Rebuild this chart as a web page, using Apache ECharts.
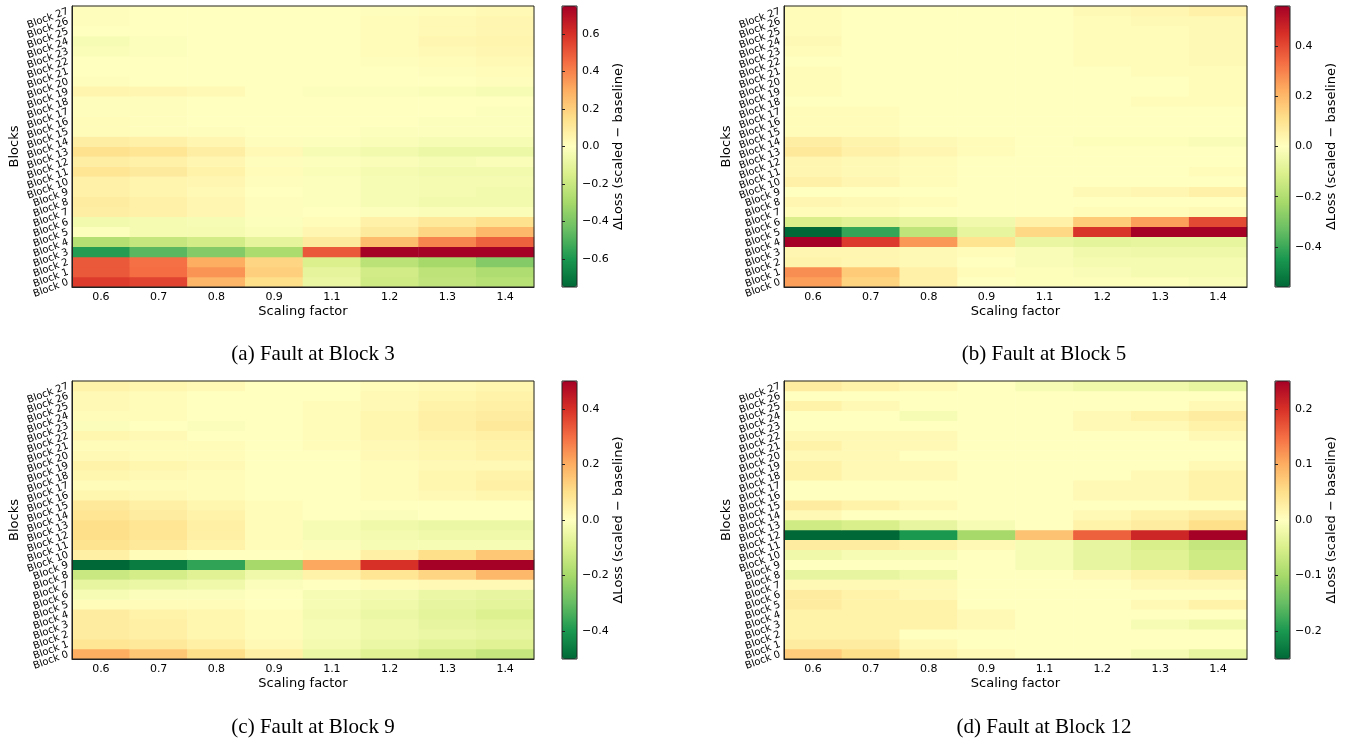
<!DOCTYPE html>
<html><head><meta charset="utf-8">
<script src="https://cdn.jsdelivr.net/npm/echarts@6/dist/echarts.min.js"></script>
<style>html,body{margin:0;padding:0;background:#fff}#c{width:1349px;height:738px}</style>
</head><body><div id="c"></div><script>
const scalingFactors = ['0.6','0.7','0.8','0.9','1.1','1.2','1.3','1.4'];
const blockLabels = ['Block 0','Block 1','Block 2','Block 3','Block 4','Block 5','Block 6','Block 7','Block 8','Block 9','Block 10','Block 11','Block 12','Block 13','Block 14','Block 15','Block 16','Block 17','Block 18','Block 19','Block 20','Block 21','Block 22','Block 23','Block 24','Block 25','Block 26','Block 27'];

// rows: Block 0 .. Block 27, columns: scaling factors
const faultBlock3 = [
[0.57,0.55,0.28,0.15,-0.08,-0.18,-0.22,-0.25],
[0.50,0.45,0.36,0.20,-0.10,-0.17,-0.23,-0.27],
[0.50,0.44,0.30,0.18,-0.14,-0.24,-0.30,-0.38],
[-0.58,-0.47,-0.38,-0.28,0.50,0.75,0.75,0.75],
[-0.26,-0.21,-0.17,-0.10,0.10,0.26,0.40,0.48],
[-0.01,-0.04,-0.04,-0.02,0.04,0.10,0.18,0.27],
[-0.05,-0.04,-0.03,-0.01,0.02,0.07,0.11,0.14],
[0.08,0.07,0.04,0.01,0.00,-0.01,-0.02,-0.02],
[0.09,0.07,0.04,0.01,-0.01,-0.03,-0.05,-0.05],
[0.07,0.05,0.03,0.00,-0.01,-0.03,-0.04,-0.05],
[0.07,0.05,0.04,0.01,-0.01,-0.03,-0.04,-0.04],
[0.12,0.10,0.06,0.02,-0.02,-0.04,-0.05,-0.05],
[0.08,0.07,0.04,0.01,-0.01,-0.02,-0.03,-0.02],
[0.14,0.12,0.08,0.03,-0.03,-0.05,-0.07,-0.07],
[0.08,0.07,0.04,0.01,-0.01,-0.02,-0.03,-0.03],
[0.02,0.01,0.01,0.00,0.00,-0.01,-0.01,-0.01],
[0.02,0.01,0.00,0.00,0.00,0.00,-0.01,-0.01],
[0.01,0.01,0.00,0.00,0.00,0.00,0.00,-0.01],
[0.01,0.01,0.00,0.00,0.00,0.00,0.00,0.00],
[0.05,0.04,0.03,0.00,-0.01,-0.01,-0.02,-0.03],
[0.01,0.00,0.00,0.00,0.00,0.00,0.00,0.01],
[0.00,0.00,0.00,0.00,0.00,0.00,0.01,0.02],
[0.00,0.00,0.00,0.00,0.00,0.01,0.02,0.03],
[-0.02,-0.01,0.00,0.00,0.00,0.02,0.03,0.04],
[-0.03,-0.01,0.00,0.00,0.00,0.02,0.04,0.05],
[0.00,0.00,0.00,0.00,0.00,0.02,0.03,0.04],
[0.01,0.00,0.00,0.00,0.00,0.02,0.03,0.04],
[0.01,0.00,0.00,0.00,0.00,0.01,0.02,0.03]
];
const faultBlock5 = [
[0.25,0.14,0.05,0.00,-0.01,-0.01,-0.01,-0.02],
[0.28,0.16,0.05,0.01,-0.01,-0.02,-0.03,-0.03],
[0.04,0.03,0.02,0.00,-0.02,-0.03,-0.03,-0.03],
[0.03,0.03,0.02,0.01,-0.02,-0.04,-0.05,-0.05],
[0.56,0.43,0.26,0.10,-0.06,-0.08,-0.07,-0.07],
[-0.56,-0.41,-0.17,-0.07,0.13,0.44,0.56,0.56],
[-0.11,-0.09,-0.07,-0.04,0.05,0.16,0.25,0.40],
[0.01,0.01,0.00,0.00,0.00,0.01,0.01,0.02],
[0.03,0.02,0.01,0.00,0.00,0.00,0.00,0.00],
[0.00,0.00,0.00,0.00,0.00,0.02,0.03,0.05],
[0.05,0.03,0.01,0.00,0.00,0.00,0.00,0.00],
[0.03,0.02,0.01,0.00,0.00,0.00,0.00,0.01],
[0.03,0.02,0.01,0.00,0.00,0.00,0.00,0.00],
[0.08,0.05,0.03,0.01,0.00,0.00,0.00,0.00],
[0.06,0.04,0.02,0.01,0.00,-0.01,-0.01,-0.02],
[0.01,0.01,0.00,0.00,0.00,0.00,0.00,0.00],
[0.01,0.01,0.00,0.00,0.00,0.00,0.00,0.00],
[0.01,0.01,0.00,0.00,0.00,0.00,0.00,0.00],
[0.00,0.00,0.00,0.00,0.00,0.00,0.01,0.01],
[0.01,0.00,0.00,0.00,0.00,0.00,0.00,0.01],
[0.01,0.00,0.00,0.00,0.00,0.00,0.00,0.01],
[0.01,0.00,0.00,0.00,0.00,0.00,0.01,0.01],
[0.00,0.00,0.00,0.00,0.00,0.01,0.01,0.02],
[0.01,0.00,0.00,0.00,0.00,0.01,0.01,0.02],
[0.02,0.00,0.00,0.00,0.00,0.01,0.01,0.02],
[0.01,0.00,0.00,0.00,0.00,0.01,0.01,0.02],
[0.01,0.00,0.00,0.00,0.00,0.01,0.02,0.02],
[0.01,0.00,0.00,0.00,0.00,0.02,0.03,0.05]
];
const faultBlock9 = [
[0.20,0.15,0.10,0.05,-0.05,-0.08,-0.11,-0.14],
[0.08,0.07,0.05,0.02,-0.03,-0.05,-0.07,-0.08],
[0.06,0.05,0.03,0.01,-0.02,-0.04,-0.05,-0.06],
[0.06,0.05,0.03,0.01,-0.02,-0.04,-0.06,-0.07],
[0.06,0.04,0.03,0.01,-0.03,-0.05,-0.07,-0.09],
[0.01,0.01,0.01,0.00,-0.02,-0.04,-0.06,-0.07],
[-0.02,-0.01,-0.01,0.00,-0.02,-0.03,-0.05,-0.06],
[-0.06,-0.05,-0.04,-0.01,0.00,0.01,0.02,0.02],
[-0.13,-0.11,-0.08,-0.04,0.04,0.08,0.12,0.18],
[-0.50,-0.46,-0.37,-0.20,0.21,0.40,0.50,0.50],
[0.05,0.01,0.00,0.00,0.01,0.05,0.10,0.15],
[0.09,0.07,0.04,0.01,-0.01,-0.02,-0.02,-0.02],
[0.10,0.08,0.05,0.01,-0.02,-0.03,-0.04,-0.04],
[0.10,0.08,0.05,0.01,-0.02,-0.04,-0.05,-0.05],
[0.08,0.06,0.04,0.01,0.00,-0.01,0.00,0.00],
[0.07,0.05,0.03,0.01,0.00,0.00,0.00,0.00],
[0.03,0.02,0.01,0.00,0.00,0.01,0.02,0.03],
[0.01,0.01,0.01,0.00,0.00,0.01,0.03,0.05],
[0.03,0.02,0.01,0.00,0.00,0.01,0.03,0.04],
[0.04,0.03,0.02,0.00,0.00,0.01,0.02,0.02],
[0.02,0.01,0.01,0.00,0.00,0.02,0.03,0.04],
[0.01,0.01,0.01,0.00,0.01,0.02,0.03,0.04],
[0.03,0.02,0.00,0.00,0.01,0.03,0.04,0.05],
[-0.01,0.00,-0.01,0.00,0.01,0.03,0.05,0.07],
[0.01,0.01,0.00,0.00,0.01,0.03,0.05,0.06],
[0.02,0.01,0.00,0.00,0.01,0.02,0.04,0.05],
[0.02,0.01,0.00,0.00,0.00,0.02,0.03,0.04],
[0.04,0.03,0.02,0.00,0.00,0.01,0.02,0.03]
];
const faultBlock12 = [
[0.07,0.05,0.02,0.01,0.00,0.00,-0.01,-0.03],
[0.03,0.03,0.01,0.00,0.00,0.00,0.00,0.00],
[0.02,0.02,0.00,0.00,0.00,0.00,0.00,0.00],
[0.02,0.02,0.02,0.01,0.00,0.00,-0.01,-0.02],
[0.02,0.02,0.02,0.01,0.00,0.00,0.00,0.00],
[0.03,0.02,0.02,0.00,0.00,0.00,0.01,0.02],
[0.03,0.02,0.01,0.00,0.00,0.00,0.00,0.00],
[0.01,0.01,0.01,0.00,0.00,0.00,0.01,0.01],
[-0.03,-0.03,-0.02,0.00,0.00,0.01,0.02,0.03],
[0.00,0.00,0.00,0.00,-0.01,-0.03,-0.04,-0.06],
[-0.02,-0.01,-0.01,0.00,-0.01,-0.03,-0.04,-0.06],
[0.03,0.03,0.02,0.01,-0.01,-0.03,-0.05,-0.07],
[-0.25,-0.25,-0.20,-0.10,0.08,0.16,0.21,0.25],
[-0.06,-0.05,-0.03,-0.01,0.00,0.02,0.03,0.05],
[0.01,0.00,0.00,0.00,0.00,0.01,0.02,0.03],
[0.03,0.02,0.01,0.00,0.00,0.00,0.00,0.00],
[0.00,0.00,0.00,0.00,0.00,0.01,0.01,0.02],
[0.00,0.00,0.00,0.00,0.00,0.01,0.01,0.02],
[0.02,0.01,0.01,0.00,0.00,0.00,0.01,0.02],
[0.02,0.01,0.01,0.00,0.00,0.00,0.00,0.01],
[0.01,0.01,0.00,0.00,0.00,0.00,0.00,0.00],
[0.02,0.01,0.01,0.00,0.00,0.00,0.00,0.00],
[0.01,0.01,0.01,0.00,0.00,0.00,0.00,0.01],
[0.00,0.00,0.00,0.00,0.00,0.01,0.01,0.02],
[0.00,0.00,-0.01,0.00,0.00,0.01,0.02,0.03],
[0.02,0.01,0.00,0.00,0.00,0.00,0.00,0.01],
[0.00,0.00,0.00,0.00,0.00,0.00,0.00,0.00],
[0.03,0.02,0.01,0.00,-0.01,-0.02,-0.02,-0.03]
];
const panelData = [faultBlock3, faultBlock5, faultBlock9, faultBlock12];
const colorLimits = [0.75, 0.56, 0.50, 0.25];
const colorbarTicks = [
  [-0.6,-0.4,-0.2,0,0.2,0.4,0.6],
  [-0.4,-0.2,0,0.2,0.4],
  [-0.4,-0.2,0,0.2,0.4],
  [-0.2,-0.1,0,0.1,0.2]
];
const captions = ['(a) Fault at Block 3','(b) Fault at Block 5','(c) Fault at Block 9','(d) Fault at Block 12'];

const cmap = ['#006837','#1a9850','#66bd63','#a6d96a','#d9ef8b','#ffffbf','#fee08b','#fdae61','#f46d43','#d73027','#a50026'];

const layout = [
  {left:72, top:6, width:462, height:281, cbLeft:562, capX:313, capY:354},
  {left:784, top:6, width:463, height:281, cbLeft:1275, capX:1044, capY:354},
  {left:72, top:381, width:462, height:278, cbLeft:562, capX:313, capY:727},
  {left:784, top:381, width:463, height:278, cbLeft:1275, capX:1044, capY:727}
];
const ink = '#000';
const lineC = '#222';
const fontFam = 'DejaVu Sans';

const grid = [], xAxis = [], yAxis = [], visualMap = [], series = [], graphic = [];
layout.forEach((L, i) => {
  grid.push({left:L.left, top:L.top, width:L.width, height:L.height, show:true, borderColor:lineC, borderWidth:1, backgroundColor:'transparent', z:10});
});
layout.forEach((L, i) => {
  grid.push({left:L.cbLeft, top:L.top, width:15, height:L.height, show:true, borderColor:lineC, borderWidth:1, backgroundColor:'transparent', z:10});
});
layout.forEach((L, i) => {
  xAxis.push({gridIndex:i, type:'category', data:scalingFactors, z:11,
    axisLine:{show:true, lineStyle:{color:lineC}},
    axisTick:{alignWithLabel:true, length:3, lineStyle:{color:lineC}},
    axisLabel:{color:ink, fontSize:11, margin:5, fontFamily:fontFam},
    splitLine:{show:false},
    name:'Scaling factor', nameLocation:'middle', nameGap:18,
    nameTextStyle:{color:ink, fontSize:13, fontFamily:fontFam}});
  yAxis.push({gridIndex:i, type:'category', data:blockLabels, z:11,
    axisLine:{show:true, lineStyle:{color:lineC}},
    axisTick:{alignWithLabel:true, interval:0, length:3, lineStyle:{color:lineC}},
    axisLabel:{interval:0, rotate:20, color:ink, fontSize:10, margin:4, fontFamily:fontFam, hideOverlap:false},
    splitLine:{show:false},
    name:'Blocks', nameLocation:'middle', nameGap:51,
    nameTextStyle:{color:ink, fontSize:13, fontFamily:fontFam}});
});
layout.forEach((L, i) => {
  const lim = colorLimits[i];
  xAxis.push({gridIndex:4+i, type:'value', show:false, min:0, max:1});
  yAxis.push({gridIndex:4+i, type:'value', min:-lim, max:lim, position:'right', z:11,
    axisLine:{show:false},
    axisTick:{show:true, customValues:colorbarTicks[i], length:3, lineStyle:{color:lineC}},
    axisLabel:{customValues:colorbarTicks[i], color:ink, fontSize:11, margin:5, fontFamily:fontFam,
      formatter: v => (v < 0 ? '\u2212' : '') + Math.abs(v).toFixed(1)},
    splitLine:{show:false},
    name:'\u0394Loss (scaled \u2212 baseline)', nameLocation:'middle', nameGap:34,
    nameTextStyle:{color:ink, fontSize:13, fontFamily:fontFam}});
});
panelData.forEach((rows, i) => {
  const L = layout[i];
  const data = [];
  rows.forEach((row, r) => row.forEach((v, c) => data.push([c, r, v])));
  series.push({type:'heatmap', xAxisIndex:i, yAxisIndex:i, data, emphasis:{disabled:true}, progressive:0, itemStyle:{borderWidth:0}});
  visualMap.push({type:'continuous', seriesIndex:i, min:-colorLimits[i], max:colorLimits[i], calculable:false, hoverLink:false,
    orient:'vertical', left:L.cbLeft, top:L.top, itemWidth:15, itemHeight:L.height, padding:0,
    inRange:{color:cmap}, z:4});
  graphic.push({type:'text', x:L.capX, y:L.capY,
    style:{text:captions[i], font:'21px "Liberation Serif", "Times New Roman", serif', fill:ink,
      align:'center', verticalAlign:'middle', textAlign:'center', textVerticalAlign:'middle'}});
});

const chart = echarts.init(document.getElementById('c'), null, {renderer:'canvas'});
chart.setOption({animation:false, backgroundColor:'#fff', textStyle:{fontFamily:fontFam},
  grid, xAxis, yAxis, visualMap, series, graphic});
</script></body></html>
